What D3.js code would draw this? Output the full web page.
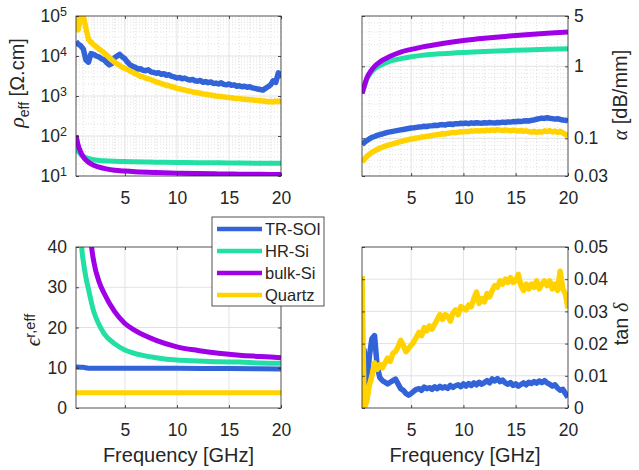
<!DOCTYPE html>
<html>
<head>
<meta charset="utf-8">
<script src="https://cdn.jsdelivr.net/npm/d3@7"></script>
<style>
  body { margin: 0; background: #fff; }
  svg { display: block; }
  text { font-family: "Liberation Sans", Arial, sans-serif; fill: #262626; }
</style>
</head>
<body>
<svg id="chart" width="639" height="470"></svg>
<script>
// ---------- data ----------
const seriesNames = ["TR-SOI", "HR-Si", "bulk-Si", "Quartz"];
const seriesColors = ["#3363d8", "#22e0a3", "#a000e8", "#ffd200"];

const freqTicks = [5, 10, 15, 20];
const rhoTicks = [10, 100, 1000, 10000, 100000];
const alphaTicks = [0.03, 0.1, 1, 5];
const epsTicks = [0, 10, 20, 30, 40];
const tanTicks = [0, 0.01, 0.02, 0.03, 0.04, 0.05];

// frequency grid of the smooth curves (GHz)
const freqS = [0.3, 0.5, 0.75, 1, 1.5, 2, 3, 4, 5, 6, 8, 10, 12, 14, 16, 18, 20];
// frequency grid of the measured (noisy) curves (GHz)
const freqN = [0.3, 0.5, 0.75, 1, 1.25, 1.5, 1.75, 2, 2.25, 2.5, 2.75, 3, 3.25, 3.5, 3.75, 4,
  4.25, 4.5, 4.75, 5, 5.25, 5.5, 5.75, 6, 6.25, 6.5, 6.75, 7, 7.25, 7.5, 7.75, 8,
  8.25, 8.5, 8.75, 9, 9.25, 9.5, 9.75, 10, 10.25, 10.5, 10.75, 11, 11.25, 11.5, 11.75, 12,
  12.25, 12.5, 12.75, 13, 13.25, 13.5, 13.75, 14, 14.25, 14.5, 14.75, 15, 15.25, 15.5, 15.75, 16,
  16.25, 16.5, 16.75, 17, 17.25, 17.5, 17.75, 18, 18.25, 18.5, 18.75, 19, 19.25, 19.5, 19.75, 20];

// effective resistivity [Ohm.cm]
const rhoTR = [23000, 20000, 18000, 15000, 8000, 7000, 11500, 11000, 10000, 9500, 8500, 8000, 6800, 6000, 6500, 9000,
  10000, 11000, 9500, 8500, 7000, 6000, 5500, 5200, 4700, 4800, 4400, 4300, 4500, 4000, 3900, 3700,
  3800, 3500, 3600, 3300, 3400, 3100, 3000, 2800, 2900, 2700, 2800, 2600, 2500, 2600, 2400, 2350,
  2450, 2200, 2300, 2150, 2250, 2050, 2100, 2000, 2150, 1950, 1900, 2000, 1850, 1900, 1750, 1800,
  1700, 1750, 1650, 1700, 1600, 1550, 1500, 1450, 1400, 1550, 1700, 1900, 2400, 2200, 3800, 2800];
const rhoHR = [55, 42, 35, 31, 27.5, 25.5, 24, 23.3, 23, 22.6, 22.2, 21.8, 21.5, 21.3, 21.1, 20.9, 20.7];
const rhoBulk = [105, 60, 40, 30, 22, 18.5, 15.5, 14, 13.3, 12.8, 12.2, 11.8, 11.5, 11.3, 11.1, 11, 10.9];
const rhoQz = [100000, 45000, 100000, 100000, 50000, 26000, 22000, 19000, 17000, 15000, 13500, 12000, 10500, 9200, 8000, 7000,
  6300, 5800, 5200, 4900, 4600, 4200, 3900, 3600, 3400, 3100, 3000, 2800, 2700, 2550, 2400, 2250,
  2150, 2050, 1950, 1850, 1800, 1700, 1650, 1550, 1520, 1450, 1420, 1350, 1320, 1260, 1240, 1200,
  1170, 1130, 1110, 1080, 1060, 1030, 1000, 990, 970, 950, 930, 920, 900, 880, 870, 860,
  840, 830, 820, 810, 800, 780, 770, 760, 750, 740, 720, 730, 710, 740, 720, 780];

// attenuation [dB/mm]
const alphaTR = [0.082, 0.087, 0.093, 0.098, 0.103, 0.106, 0.110, 0.113, 0.115, 0.118, 0.121, 0.123, 0.125, 0.127, 0.129, 0.131,
  0.133, 0.135, 0.137, 0.139, 0.140, 0.142, 0.144, 0.145, 0.147, 0.146, 0.149, 0.150, 0.152, 0.151, 0.154, 0.155,
  0.153, 0.157, 0.158, 0.156, 0.160, 0.159, 0.162, 0.161, 0.163, 0.160, 0.164, 0.162, 0.165, 0.163, 0.162, 0.165,
  0.163, 0.166, 0.164, 0.163, 0.166, 0.165, 0.168, 0.166, 0.169, 0.168, 0.171, 0.170, 0.173, 0.171, 0.174, 0.176,
  0.174, 0.178, 0.180, 0.184, 0.188, 0.191, 0.189, 0.193, 0.190, 0.188, 0.185, 0.187, 0.183, 0.180, 0.178, 0.175];
const alphaHR = [0.42, 0.52, 0.66, 0.76, 0.92, 1.02, 1.18, 1.28, 1.36, 1.42, 1.5, 1.56, 1.61, 1.65, 1.69, 1.72, 1.75];
const alphaBulk = [0.42, 0.52, 0.68, 0.8, 1.0, 1.15, 1.38, 1.58, 1.72, 1.85, 2.08, 2.28, 2.45, 2.6, 2.75, 2.88, 3.0];
const alphaQz = [0.047, 0.051, 0.056, 0.060, 0.064, 0.067, 0.070, 0.073, 0.075, 0.078, 0.080, 0.082, 0.084, 0.086, 0.088, 0.090,
  0.092, 0.094, 0.096, 0.098, 0.099, 0.101, 0.102, 0.104, 0.105, 0.107, 0.108, 0.110, 0.111, 0.113, 0.114, 0.116,
  0.115, 0.118, 0.119, 0.121, 0.120, 0.122, 0.124, 0.123, 0.125, 0.124, 0.127, 0.126, 0.128, 0.126, 0.129, 0.127,
  0.130, 0.128, 0.131, 0.129, 0.132, 0.130, 0.128, 0.131, 0.129, 0.127, 0.130, 0.128, 0.126, 0.129, 0.125, 0.127,
  0.124, 0.122, 0.125, 0.121, 0.124, 0.122, 0.127, 0.124, 0.128, 0.123, 0.126, 0.121, 0.125, 0.119, 0.114, 0.107];

// effective permittivity
const epsFreqFlat = [0.3, 1, 1.5, 5, 10, 15, 20];
const epsTR = [10.2, 10.1, 9.9, 9.9, 9.85, 9.8, 9.7];
const epsQz = [3.8, 3.8, 3.8, 3.8, 3.8, 3.8, 3.8];
const epsFreqHR = [0.75, 0.85, 1, 1.25, 1.5, 2, 2.5, 3, 4, 5, 6, 8, 10, 12, 14, 16, 18, 20];
const epsHR = [47, 40, 36.5, 32.5, 29.5, 24, 20.8, 18.5, 16, 14.4, 13.5, 12.5, 11.9, 11.7, 11.5, 11.4, 11.2, 11.1];
const epsFreqBulk = [1.7, 1.8, 2, 2.5, 3, 4, 5, 6, 8, 10, 12, 14, 16, 18, 20];
const epsBulk = [43, 40, 36.5, 31.5, 28.5, 24, 21, 19.2, 16.8, 15.2, 14.3, 13.6, 13.1, 12.8, 12.5];

// loss tangent
const tanTR = [0.013, 0.018, 0.006, 0.016, 0.0215, 0.0225, 0.013, 0.0095, 0.0085, 0.008, 0.0075, 0.008, 0.0085, 0.009, 0.0075, 0.006,
  0.0055, 0.0045, 0.004, 0.0045, 0.0052, 0.0058, 0.006, 0.0055, 0.0065, 0.006, 0.0063, 0.0058, 0.0066, 0.006, 0.0067, 0.0062,
  0.0066, 0.0061, 0.007, 0.0064, 0.0069, 0.0072, 0.0066, 0.0075, 0.0068, 0.0076, 0.007, 0.0078, 0.0072, 0.008, 0.0074, 0.0079,
  0.0085, 0.0078, 0.009, 0.0084, 0.0091, 0.0082, 0.0087, 0.0078, 0.0074, 0.0079, 0.007, 0.0075, 0.0068, 0.0073, 0.0078, 0.0072,
  0.008, 0.0076, 0.0082, 0.0077, 0.0084, 0.0079, 0.0085, 0.0078, 0.0074, 0.0068, 0.0072, 0.0062, 0.0055, 0.0058, 0.0045, 0.0033];
const tanQz = [0.041, 0.000, 0.002, 0.007, 0.010, 0.014, 0.012, 0.0135, 0.0125, 0.014, 0.0155, 0.0145, 0.017, 0.0175, 0.019, 0.021,
  0.0195, 0.0175, 0.0185, 0.0195, 0.0205, 0.022, 0.0235, 0.0225, 0.025, 0.024, 0.0255, 0.0245, 0.026, 0.0275, 0.029, 0.0275,
  0.029, 0.0285, 0.027, 0.0295, 0.0305, 0.029, 0.0315, 0.031, 0.0305, 0.032, 0.0315, 0.034, 0.036, 0.0325, 0.034, 0.033,
  0.0355, 0.0345, 0.0365, 0.038, 0.0375, 0.0395, 0.0385, 0.040, 0.039, 0.0405, 0.039, 0.0395, 0.0415, 0.038, 0.0365, 0.0385,
  0.037, 0.0385, 0.0375, 0.0395, 0.037, 0.0385, 0.0395, 0.038, 0.0395, 0.037, 0.0385, 0.0365, 0.0425, 0.037, 0.0355, 0.031];

// ---------- drawing ----------
const svg = d3.select("#chart");
svg.append("rect").attr("width", 639).attr("height", 470).attr("fill", "#fff");
const defs = svg.append("defs");

const INK = "#262626";
const TICK_FONT = "17.5px";
const xDomain = [0.3, 20];
const minorFreq = d3.range(1, 20).filter(f => !freqTicks.includes(f));

function logMinors(domain, majors) {
  const out = [];
  for (let e = -3; e <= 6; e++) {
    for (let k = 1; k <= 9; k++) {
      const v = k * Math.pow(10, e);
      if (v > domain[0] * 1.0001 && v < domain[1] * 0.9999 && !majors.some(m => Math.abs(m - v) / v < 1e-6)) out.push(v);
    }
  }
  return out;
}

function styleAxis(a) {
  a.attr("font-size", null).attr("font-family", null);
  a.select(".domain").remove();
  a.selectAll(".tick line").attr("stroke", INK).attr("stroke-width", 0.8);
  a.selectAll(".tick text").attr("fill", INK).style("font-size", TICK_FONT);
  return a;
}

function panel(o) {
  const x = d3.scaleLinear().domain(xDomain).range([o.x0, o.x1]);
  const y = o.y.range([o.y1, o.y0]);
  const g = svg.append("g");
  const clipId = "clip-" + o.id;
  defs.append("clipPath").attr("id", clipId)
    .append("rect").attr("x", o.x0).attr("y", o.y0)
    .attr("width", o.x1 - o.x0).attr("height", o.y1 - o.y0);

  // minor grid (log panels)
  if (o.minor) {
    g.append("g").selectAll("line").data(minorFreq).join("line")
      .attr("x1", d => x(d)).attr("x2", d => x(d)).attr("y1", o.y0).attr("y2", o.y1)
      .attr("stroke", "#d9d9d9").attr("stroke-width", 0.8).attr("stroke-dasharray", "1,2");
    g.append("g").selectAll("line").data(logMinors(o.y.domain(), o.ticks)).join("line")
      .attr("x1", o.x0).attr("x2", o.x1).attr("y1", d => y(d)).attr("y2", d => y(d))
      .attr("stroke", "#d9d9d9").attr("stroke-width", 0.8).attr("stroke-dasharray", "1,2");
  }
  // major grid
  g.append("g").selectAll("line").data(freqTicks.slice(0, -1)).join("line")
    .attr("x1", d => x(d)).attr("x2", d => x(d)).attr("y1", o.y0).attr("y2", o.y1)
    .attr("stroke", "#e2e2e2").attr("stroke-width", 1);
  g.append("g").selectAll("line").data(o.ticks.slice(1, -1)).join("line")
    .attr("x1", o.x0).attr("x2", o.x1).attr("y1", d => y(d)).attr("y2", d => y(d))
    .attr("stroke", "#e2e2e2").attr("stroke-width", 1);

  // data lines
  const lg = g.append("g").attr("clip-path", `url(#${clipId})`);
  o.series.forEach(s => {
    const pts = s.f.map((f, i) => [f, s.v[i]]);
    lg.append("path").datum(pts)
      .attr("d", d3.line().x(d => x(d[0])).y(d => y(d[1])).curve(s.smooth ? d3.curveMonotoneX : d3.curveLinear))
      .attr("fill", "none").attr("stroke", seriesColors[s.k])
      .attr("stroke-width", s.smooth ? 5 : 5.5)
      .attr("stroke-linejoin", "round").attr("stroke-linecap", "butt");
  });

  // box
  g.append("rect").attr("x", o.x0).attr("y", o.y0)
    .attr("width", o.x1 - o.x0).attr("height", o.y1 - o.y0)
    .attr("fill", "none").attr("stroke", INK).attr("stroke-width", 0.8);

  // x axes (bottom labelled, top mirrored ticks)
  styleAxis(g.append("g").attr("transform", `translate(0,${o.y1})`)
    .call(d3.axisBottom(x).tickValues(freqTicks).tickSize(-3).tickPadding(16).tickFormat(d3.format("d"))));
  styleAxis(g.append("g").attr("transform", `translate(0,${o.y0})`)
    .call(d3.axisTop(x).tickValues(freqTicks).tickSize(-3).tickFormat("")));

  // y axes
  const side = o.side === "left";
  const yAxis = (side ? d3.axisLeft(y) : d3.axisRight(y))
    .tickValues(o.ticks).tickSize(-3).tickPadding(side ? 9 : 6).tickFormat(o.fmt);
  const ya = styleAxis(g.append("g").attr("transform", `translate(${side ? o.x0 : o.x1},0)`).call(yAxis));
  const yMirror = (side ? d3.axisRight(y) : d3.axisLeft(y)).tickValues(o.ticks).tickSize(-3).tickFormat("");
  styleAxis(g.append("g").attr("transform", `translate(${side ? o.x1 : o.x0},0)`).call(yMirror));

  if (o.powerLabels) {
    ya.selectAll(".tick text").each(function (d) {
      const t = d3.select(this);
      t.text(null);
      t.append("tspan").text("10");
      t.append("tspan").attr("dy", "-0.48em").style("font-size", "12.5px").text(Math.round(Math.log10(d)));
    });
  }
  return { x, y, g };
}

const L = { x0: 76, x1: 281 }, R = { x0: 362, x1: 568 };
const T = { y0: 16, y1: 176 }, B = { y0: 247, y1: 408 };

// effective resistivity
panel({
  id: "rho", ...L, ...T, side: "left", minor: true, powerLabels: true,
  y: d3.scaleLog().domain([10, 100000]), ticks: rhoTicks, fmt: d => d,
  series: [
    { k: 0, f: freqN, v: rhoTR },
    { k: 1, f: freqS, v: rhoHR, smooth: true },
    { k: 2, f: freqS, v: rhoBulk, smooth: true },
    { k: 3, f: freqN, v: rhoQz }
  ]
});

// attenuation
panel({
  id: "alpha", ...R, ...T, side: "right", minor: true,
  y: d3.scaleLog().domain([0.03, 5]), ticks: alphaTicks, fmt: d => String(d),
  series: [
    { k: 0, f: freqN, v: alphaTR },
    { k: 1, f: freqS, v: alphaHR, smooth: true },
    { k: 2, f: freqS, v: alphaBulk, smooth: true },
    { k: 3, f: freqN, v: alphaQz }
  ]
});

// effective permittivity
panel({
  id: "eps", ...L, ...B, side: "left",
  y: d3.scaleLinear().domain([0, 40]), ticks: epsTicks, fmt: d3.format("d"),
  series: [
    { k: 0, f: epsFreqFlat, v: epsTR, smooth: true },
    { k: 1, f: epsFreqHR, v: epsHR, smooth: true },
    { k: 2, f: epsFreqBulk, v: epsBulk, smooth: true },
    { k: 3, f: epsFreqFlat, v: epsQz, smooth: true }
  ]
});

// loss tangent
panel({
  id: "tan", ...R, ...B, side: "right",
  y: d3.scaleLinear().domain([0, 0.05]), ticks: tanTicks, fmt: d => d === 0 ? "0" : d3.format(".2f")(d),
  series: [
    { k: 0, f: freqN, v: tanTR },
    { k: 3, f: freqN, v: tanQz }
  ]
});

// ---------- axis titles ----------
const GREEK = '"Liberation Serif", "Times New Roman", serif';

function vLabel(xp, yp) {
  return svg.append("text").attr("transform", `translate(${xp},${yp}) rotate(-90)`)
    .attr("text-anchor", "middle").style("font-size", "20px");
}

const rhoLab = vLabel(24, 83);
rhoLab.append("tspan").style("font-family", GREEK).style("font-style", "italic").style("font-size", "22px").text("ρ");
rhoLab.append("tspan").attr("dy", 5).style("font-size", "14px").text("eff");
rhoLab.append("tspan").attr("dy", -5).text(" [Ω.cm]");

const alphaLab = vLabel(627, 95);
alphaLab.append("tspan").style("font-family", GREEK).style("font-style", "italic").text("α");
alphaLab.append("tspan").text(" [dB/mm]");

const epsLab = vLabel(40, 330);
epsLab.append("tspan").style("font-family", GREEK).style("font-style", "italic").style("font-size", "21px").text("ϵ");
epsLab.append("tspan").attr("dy", -5).style("font-size", "14.5px").text("r,eff");

const tanLab = vLabel(628, 324);
tanLab.append("tspan").text("tan ");
tanLab.append("tspan").style("font-family", GREEK).style("font-style", "italic").text("δ");

[[(L.x0 + L.x1) / 2], [(R.x0 + R.x1) / 2]].forEach(([cx]) => {
  svg.append("text").attr("x", cx).attr("y", 462).attr("text-anchor", "middle")
    .style("font-size", "20px").text("Frequency [GHz]");
});

// ---------- legend ----------
const leg = svg.append("g").attr("transform", "translate(212,217)");
leg.append("rect").attr("width", 112).attr("height", 89)
  .attr("fill", "#fff").attr("stroke", INK).attr("stroke-width", 0.8);
const legRow = d3.scaleBand().domain(seriesNames).range([1, 89]);
seriesNames.forEach((name, i) => {
  const cy = legRow(name) + legRow.bandwidth() / 2;
  leg.append("line").attr("x1", 5).attr("x2", 50).attr("y1", cy).attr("y2", cy)
    .attr("stroke", seriesColors[i]).attr("stroke-width", 4.5);
  leg.append("text").attr("x", 53).attr("y", cy).attr("dy", "0.35em")
    .style("font-size", "16.5px").text(name);
});
</script>
</body>
</html>
